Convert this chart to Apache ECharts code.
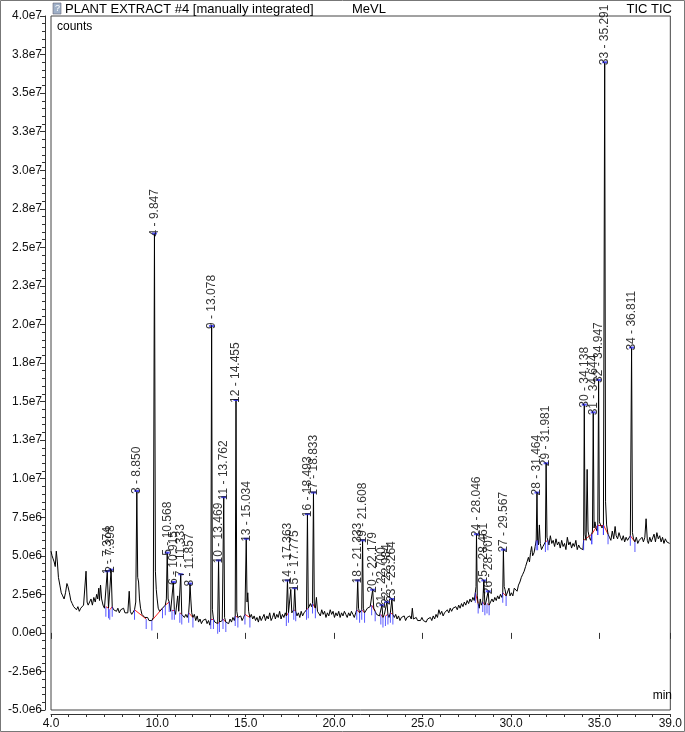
<!DOCTYPE html>
<html><head><meta charset="utf-8">
<script src="https://cdn.jsdelivr.net/npm/echarts@6/dist/echarts.min.js"></script>
<style>html,body{margin:0;padding:0;background:#fff}#c{width:685px;height:732px}</style>
</head><body><div id="c"></div><script>
// ---- data (time in min, intensity in millions of counts) ----
const yTickMin = -5e6, yTickMax = 4e7, yTickStep = 2.5e6;
const xMajorTicks = [4, 10, 15, 20, 25, 30, 35, 39];

const chromatogram = [
[4.00,5.3],[4.06,5.0],[4.12,4.8],[4.18,4.6],[4.24,4.3],[4.30,5.3],[4.36,4.6],[4.42,3.6],[4.50,3.1],[4.58,2.6],
[4.66,2.4],[4.74,2.2],[4.82,2.6],[4.90,3.2],[4.96,3.0],[5.04,2.6],[5.12,2.1],[5.20,1.9],[5.28,1.7],[5.36,1.8],
[5.44,1.5],[5.52,1.7],[5.60,1.4],[5.68,1.6],[5.76,1.5],[5.84,1.8],[5.92,1.7],[5.98,4.0],[6.04,2.0],[6.10,1.8],
[6.18,1.9],[6.26,2.2],[6.34,1.8],[6.42,2.3],[6.50,2.0],[6.58,2.5],[6.64,2.2],[6.70,2.9],[6.74,2.1],[6.80,3.1],
[6.86,2.2],[6.94,1.8],[7.02,1.6],[7.10,1.7],[7.18,4.0],[7.25,1.6],[7.32,1.5],[7.398,4.1],[7.46,1.7],[7.54,1.5],
[7.62,1.6],[7.70,1.4],[7.78,1.6],[7.86,1.3],[7.94,1.5],[8.02,1.4],[8.10,1.6],[8.18,1.3],[8.26,1.4],[8.34,1.3],
[8.42,2.7],[8.48,1.4],[8.56,1.2],[8.64,1.3],[8.72,1.5],[8.79,2.0],[8.85,9.2],[8.90,3.6],[8.95,3.3],[9.00,2.2],
[9.06,1.6],[9.14,1.2],[9.22,1.1],[9.30,1.0],[9.38,0.9],[9.46,1.0],[9.54,0.8],[9.62,0.9],[9.70,0.8],[9.78,1.0],
[9.847,25.9],[9.90,4.0],[9.95,2.8],[10.00,2.2],[10.06,1.6],[10.14,1.4],[10.22,1.5],[10.30,1.6],[10.38,1.7],[10.46,1.8],
[10.52,2.2],[10.568,5.2],[10.62,2.2],[10.68,2.0],[10.76,1.4],[10.84,1.5],[10.915,3.3],[10.97,1.5],[11.04,1.2],[11.10,1.3],
[11.16,2.4],[11.22,1.4],[11.28,1.3],[11.333,3.8],[11.39,1.2],[11.46,1.1],[11.54,1.0],[11.62,1.2],[11.70,1.0],[11.78,1.3],
[11.82,2.0],[11.857,3.2],[11.90,2.2],[11.95,1.3],[12.02,1.0],[12.10,1.2],[12.18,0.8],[12.26,1.1],[12.34,0.7],[12.42,0.9],
[12.50,0.6],[12.58,0.8],[12.66,0.7],[12.74,0.9],[12.82,0.6],[12.90,0.8],[12.98,0.5],[13.03,0.9],[13.078,19.9],[13.12,1.5],
[13.18,0.9],[13.26,0.7],[13.34,0.8],[13.42,0.6],[13.469,4.7],[13.52,0.7],[13.60,0.6],[13.68,0.8],[13.72,0.9],[13.762,8.8],
[13.81,1.0],[13.88,0.7],[13.96,0.8],[14.04,0.6],[14.12,0.9],[14.20,0.7],[14.28,1.0],[14.36,0.8],[14.41,1.1],[14.455,15.1],
[14.50,1.4],[14.56,1.0],[14.64,0.9],[14.72,1.1],[14.80,0.8],[14.88,1.0],[14.96,1.2],[15.034,6.1],[15.08,2.0],[15.12,2.6],
[15.17,1.4],[15.24,1.0],[15.32,1.2],[15.40,0.9],[15.48,1.1],[15.56,0.8],[15.64,1.0],[15.72,0.7],[15.80,1.1],[15.88,0.8],
[15.96,0.9],[16.04,1.2],[16.12,0.8],[16.20,1.1],[16.28,0.9],[16.36,1.3],[16.44,0.8],[16.52,1.0],[16.60,1.3],[16.68,0.9],
[16.76,1.2],[16.84,1.0],[16.92,1.4],[17.00,0.9],[17.08,1.2],[17.16,1.0],[17.24,1.3],[17.30,1.1],[17.363,3.4],[17.42,1.3],
[17.48,1.4],[17.55,2.8],[17.61,1.3],[17.68,1.2],[17.72,1.5],[17.775,2.9],[17.83,1.4],[17.90,1.1],[17.98,1.3],[18.06,1.0],
[18.14,1.4],[18.22,1.1],[18.30,1.3],[18.38,1.2],[18.44,1.5],[18.493,7.7],[18.54,1.6],[18.60,1.5],[18.66,1.9],[18.72,1.7],
[18.78,1.9],[18.833,9.1],[18.88,1.8],[18.94,1.6],[19.00,2.3],[19.06,1.4],[19.14,1.3],[19.22,1.1],[19.30,1.5],[19.38,1.2],
[19.46,1.4],[19.54,1.0],[19.62,1.3],[19.70,1.1],[19.78,1.5],[19.86,1.2],[19.94,1.4],[20.02,1.0],[20.10,1.3],[20.18,1.1],
[20.26,1.4],[20.34,1.0],[20.42,1.3],[20.50,1.1],[20.58,1.4],[20.66,1.2],[20.74,1.0],[20.82,1.3],[20.90,1.1],[20.98,1.4],
[21.06,1.2],[21.14,1.0],[21.22,1.3],[21.28,1.5],[21.333,3.4],[21.38,1.6],[21.44,1.3],[21.50,1.2],[21.56,1.5],[21.608,6.0],
[21.65,1.6],[21.72,1.3],[21.80,1.4],[21.88,1.6],[21.96,1.5],[22.04,1.7],[22.12,1.8],[22.179,2.8],[22.24,1.6],[22.32,1.4],
[22.40,1.2],[22.48,1.3],[22.56,1.1],[22.64,1.2],[22.70,1.8],[22.76,1.0],[22.84,1.2],[22.90,1.1],[22.984,2.0],[23.04,1.2],
[23.10,1.0],[23.18,1.3],[23.264,2.2],[23.32,1.2],[23.40,1.0],[23.48,1.2],[23.56,0.9],[23.64,1.1],[23.72,0.8],[23.80,1.0],
[23.88,0.9],[23.96,1.1],[24.04,0.8],[24.12,1.0],[24.20,0.9],[24.28,1.1],[24.36,0.9],[24.42,1.6],[24.48,0.9],[24.56,0.8],
[24.64,1.0],[24.72,0.8],[24.80,0.9],[24.88,0.8],[24.96,1.0],[25.04,0.8],[25.12,0.9],[25.20,0.7],[25.28,0.9],[25.36,0.8],
[25.44,1.0],[25.52,0.8],[25.60,1.1],[25.68,0.9],[25.76,1.2],[25.84,1.0],[25.92,1.5],[26.00,1.2],[26.08,1.4],[26.16,1.1],
[26.24,1.3],[26.32,1.2],[26.40,1.5],[26.48,1.3],[26.56,1.6],[26.64,1.4],[26.72,1.6],[26.80,1.5],[26.88,1.7],[26.96,1.5],
[27.04,1.8],[27.12,1.6],[27.20,1.9],[27.28,1.7],[27.36,2.0],[27.44,1.8],[27.52,2.1],[27.60,1.9],[27.68,2.2],[27.76,2.0],
[27.84,2.3],[27.92,2.1],[27.98,2.6],[28.02,3.0],[28.046,6.4],[28.09,2.4],[28.14,1.9],[28.20,1.6],[28.26,2.2],[28.32,1.8],
[28.40,2.0],[28.461,3.4],[28.52,1.8],[28.58,2.0],[28.64,1.9],[28.707,2.7],[28.76,1.8],[28.84,2.0],[28.92,2.2],[29.00,2.0],
[29.08,2.3],[29.16,2.1],[29.24,2.4],[29.32,2.2],[29.40,2.5],[29.48,2.3],[29.53,2.6],[29.567,5.4],[29.61,3.0],[29.66,2.8],
[29.72,2.4],[29.80,2.3],[29.88,2.9],[29.94,2.4],[30.02,2.6],[30.10,2.4],[30.18,2.9],[30.26,3.0],[30.34,2.7],[30.42,3.1],
[30.50,3.3],[30.58,3.6],[30.66,3.8],[30.74,4.0],[30.82,4.3],[30.90,4.6],[30.98,4.9],[31.04,4.6],[31.10,5.2],[31.16,5.6],
[31.22,5.0],[31.30,5.2],[31.36,5.6],[31.42,6.0],[31.464,9.1],[31.50,6.0],[31.55,5.7],[31.60,7.0],[31.65,5.8],[31.72,5.4],
[31.80,5.6],[31.88,5.5],[31.94,5.9],[31.981,11.0],[32.03,6.2],[32.08,6.0],[32.14,5.7],[32.22,6.3],[32.30,5.8],[32.38,6.0],
[32.46,5.6],[32.54,6.1],[32.62,5.7],[32.70,5.9],[32.78,5.5],[32.86,6.0],[32.94,5.6],[33.02,5.8],[33.10,5.4],[33.18,6.2],
[33.26,5.7],[33.34,5.9],[33.42,5.5],[33.50,5.8],[33.58,5.6],[33.66,6.0],[33.74,5.4],[33.82,5.7],[33.90,5.5],[33.98,5.6],
[34.06,5.4],[34.10,6.0],[34.138,14.8],[34.18,6.4],[34.24,6.0],[34.30,10.6],[34.35,6.6],[34.42,6.2],[34.50,6.0],[34.56,6.4],
[34.60,6.6],[34.644,14.3],[34.69,6.8],[34.74,7.2],[34.80,6.8],[34.86,6.6],[34.90,7.0],[34.947,16.4],[34.99,7.2],[35.06,7.0],
[35.14,6.8],[35.22,7.0],[35.291,37.0],[35.34,8.5],[35.40,7.0],[35.48,6.4],[35.56,6.2],[35.64,6.0],[35.72,6.6],[35.80,6.1],
[35.88,6.9],[35.94,6.3],[36.02,6.1],[36.10,6.5],[36.18,6.2],[36.26,6.0],[36.34,6.3],[36.42,5.9],[36.50,6.2],[36.58,6.0],
[36.66,5.9],[36.74,6.3],[36.811,18.5],[36.86,6.5],[36.92,6.1],[37.00,5.9],[37.08,6.2],[37.16,5.8],[37.24,6.0],[37.32,5.9],
[37.40,6.2],[37.48,5.9],[37.56,6.2],[37.63,7.4],[37.70,6.0],[37.76,5.8],[37.84,6.2],[37.92,5.9],[38.00,6.0],[38.08,6.4],
[38.16,5.9],[38.24,6.5],[38.32,6.1],[38.40,6.3],[38.48,5.9],[38.56,6.2],[38.64,5.8],[38.72,6.1],[38.80,5.9],[38.88,6.0],
[38.96,5.8]
];

// peak apex positions (min) as measured on the trace, and the label text printed in the picture
const peakTimes = [7.18,7.398,8.850,9.847,10.568,10.915,11.333,11.857,13.078,13.469,13.762,14.455,
  15.034,17.363,17.775,18.493,18.833,21.333,21.608,22.179,22.700,22.984,23.264,28.046,28.461,
  28.707,29.567,31.464,31.981,34.138,34.644,34.947,35.291,36.811];
const peakLabels = ['7.374','7.398','8.850','9.847','10.568','10.915','11.333','11.857','13.078','13.469','13.762','14.455',
  '15.034','17.363','17.775','18.493','18.833','21.333','21.608','22.179','22.700','22.984','23.264','28.046','28.461',
  '28.707','29.567','31.464','31.981','34.138','34.644','34.947','35.291','36.811'];
const peakHeights = [4.0,4.1,9.2,25.9,5.2,3.3,3.8,3.2,19.9,4.7,8.8,15.1,6.1,3.4,2.9,7.7,9.1,3.4,6.0,2.8,1.8,2.0,2.2,
  6.4,3.4,2.7,5.4,9.1,11.0,14.8,14.3,16.4,37.0,18.5];
const peakStart = [7.10,7.32,8.72,9.70,10.46,10.84,11.28,11.78,13.03,13.42,13.72,14.41,14.96,17.30,17.72,18.44,18.78,
  21.28,21.56,22.12,22.64,22.90,23.18,27.98,28.40,28.64,29.53,31.42,31.94,34.10,34.56,34.90,35.22,36.74];
const peakEnd = [7.25,7.46,9.38,10.30,10.68,10.97,11.39,12.02,13.18,13.52,13.88,14.56,15.24,17.42,17.83,18.54,18.94,
  21.44,21.72,22.32,22.76,23.04,23.32,28.14,28.52,28.76,29.72,31.50,32.08,34.56,34.90,35.22,35.48,37.00];

// ---- build ----
const M = 1e6;
const traceData = chromatogram.map(p => [p[0], p[1] * M]);
function traceAt(t) {
  let best = chromatogram[0];
  for (const p of chromatogram) { if (Math.abs(p[0] - t) < Math.abs(best[0] - t)) best = p; }
  return best[1] * M;
}
const apexData = peakLabels.map((s, i) => ({ value: [peakTimes[i], peakHeights[i] * M], name: (i + 1) + ' - ' + s }));
const baseLines = peakStart.map((s, i) => ({ coords: [[s, traceAt(s)], [peakEnd[i], traceAt(peakEnd[i])]] }));
const boundTicks = [];
peakStart.forEach((s, i) => { boundTicks.push([s, traceAt(s)]); boundTicks.push([peakEnd[i], traceAt(peakEnd[i])]); });

function sci(v) {
  if (Math.abs(v) < 1e-6) return '0.0e0';
  const e = Math.floor(Math.log10(Math.abs(v)) + 1e-9);
  return (v / Math.pow(10, e)).toFixed(1) + 'e' + e;
}
const FONT = "'Liberation Sans', Arial, sans-serif";

const chart = echarts.init(document.getElementById('c'), null, { renderer: 'canvas' });
chart.setOption({
  animation: false,
  backgroundColor: '#fff',
  grid: { left: 51, right: 14, top: 16, bottom: 22, show: true, borderColor: '#444', borderWidth: 1, backgroundColor: '#fff' },
  xAxis: [{
    type: 'value', min: 4, max: 39, interval: 1, offset: 4,
    axisLine: { show: true, onZero: false, lineStyle: { color: '#333', width: 1 } },
    axisTick: { show: true, length: 3, lineStyle: { color: '#333' } },
    splitLine: { show: false },
    axisLabel: { show: true, margin: 4, fontSize: 12, fontFamily: FONT, color: '#111',
      formatter: v => xMajorTicks.indexOf(Math.round(v)) >= 0 && Math.abs(v - Math.round(v)) < 1e-6 ? v.toFixed(1) : '' }
  }, {
    type: 'value', min: 4, max: 39, offset: 4, position: 'bottom',
    axisLine: { show: false },
    axisTick: { show: true, length: 6, customValues: xMajorTicks, lineStyle: { color: '#333' } },
    axisLabel: { show: false }, splitLine: { show: false }
  }],
  yAxis: {
    type: 'value', min: yTickMin, max: yTickMax, interval: yTickStep, offset: 6,
    axisLine: { show: true, onZero: false, lineStyle: { color: '#333', width: 1 } },
    axisTick: { show: true, length: 5, lineStyle: { color: '#333' } },
    minorTick: { show: true, splitNumber: 5, length: 3, lineStyle: { color: '#333' } },
    splitLine: { show: false },
    axisLabel: { margin: 3, fontSize: 12, fontFamily: FONT, color: '#111', formatter: sci }
  },
  series: [
    { type: 'lines', coordinateSystem: 'cartesian2d', xAxisIndex: 0, yAxisIndex: 0, data: baseLines,
      lineStyle: { color: '#ff2020', width: 1, opacity: 1 }, silent: true, z: 1 },
    { type: 'line', xAxisIndex: 0, data: traceData, showSymbol: false, symbol: 'none', sampling: 'none',
      lineStyle: { color: '#000', width: 1 }, z: 2, silent: true },
    { type: 'scatter', xAxisIndex: 0, data: boundTicks, symbol: 'rect', symbolSize: [1, 10], symbolOffset: [0, 5],
      itemStyle: { color: '#3030ff' }, z: 3, silent: true },
    { type: 'scatter', xAxisIndex: 0, data: apexData, symbol: 'rect', symbolSize: [5, 2],
      itemStyle: { color: '#3030ff' }, z: 4, silent: true,
      label: { show: true, formatter: '{b}', rotate: 90, position: [2.5, 4], align: 'left', verticalAlign: 'middle',
        fontSize: 12, fontFamily: FONT, color: '#000' } }
  ],
  graphic: [
    { type: 'rect', shape: { x: 0.5, y: 0.5, width: 684, height: 731 }, style: { fill: 'none', stroke: '#777', lineWidth: 1 }, z: 100 },
    { type: 'rect', shape: { x: 53, y: 3, width: 8, height: 11 }, style: { fill: '#9fb0c8', stroke: '#667', lineWidth: 0.6 } },
    { type: 'text', x: 55, y: 4, style: { text: '?', fontSize: 9, fontFamily: FONT, fill: '#fff' } },
    { type: 'text', x: 65, y: 9, style: { text: 'PLANT EXTRACT #4 [manually integrated]', fontSize: 13, fontFamily: FONT, fill: '#000', verticalAlign: 'middle' } },
    { type: 'text', x: 352, y: 9, style: { text: 'MeVL', fontSize: 13, fontFamily: FONT, fill: '#000', verticalAlign: 'middle' } },
    { type: 'text', x: 672, y: 9, style: { text: 'TIC TIC', fontSize: 13, fontFamily: FONT, fill: '#000', align: 'right', verticalAlign: 'middle' } },
    { type: 'text', x: 57, y: 27, style: { text: 'counts', fontSize: 12, fontFamily: FONT, fill: '#000', verticalAlign: 'middle' } },
    { type: 'text', x: 672, y: 696, style: { text: 'min', fontSize: 12, fontFamily: FONT, fill: '#000', align: 'right', verticalAlign: 'middle' } }
  ]
});
</script></body></html>
